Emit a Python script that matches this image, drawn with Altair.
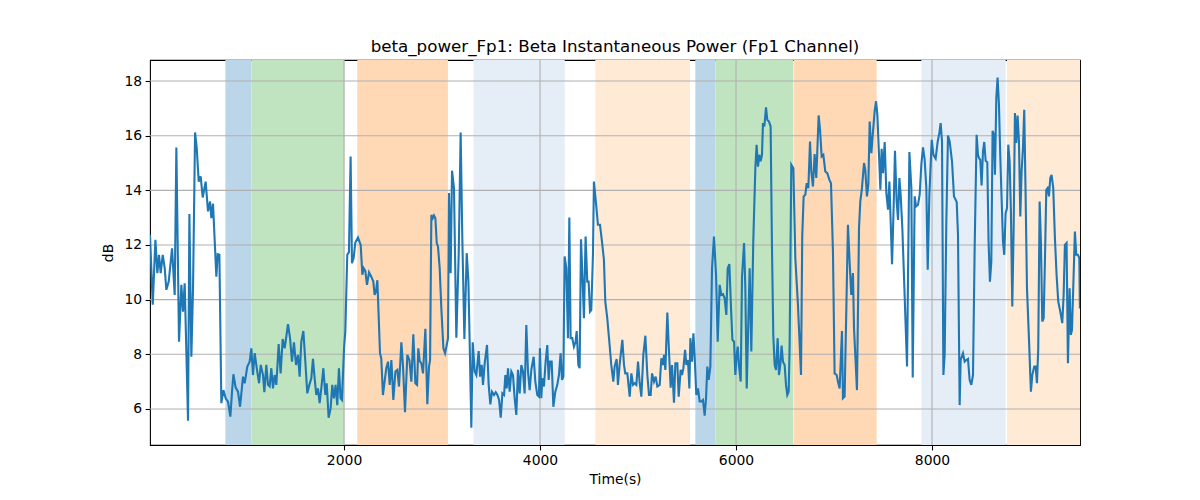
import altair as alt
import pandas as pd

# instantaneous beta power
time_s = [
    20, 48, 75, 95, 112, 129, 150, 170, 187, 211, 245, 272, 289, 316, 340, 357, 374, 408, 422, 442,
    459, 480, 497, 517, 537, 558, 588, 612, 633, 646, 663, 697, 711, 728, 748, 769, 792, 816, 840, 857,
    871, 894, 918, 939, 969, 986, 1013, 1037, 1054, 1071, 1088, 1112, 1133, 1150, 1173, 1187, 1207, 1224,
    1241, 1258, 1275, 1292, 1309, 1333, 1353, 1374, 1394, 1411, 1428, 1449, 1469, 1489, 1510, 1530, 1547,
    1564, 1585, 1605, 1625, 1646, 1666, 1683, 1700, 1717, 1734, 1751, 1768, 1789, 1809, 1823, 1843, 1863,
    1880, 1897, 1914, 1931, 1948, 1965, 1979, 2000, 2013, 2033, 2050, 2067, 2081, 2098, 2115, 2142, 2170,
    2187, 2200, 2217, 2234, 2255, 2278, 2299, 2312, 2326, 2340, 2353, 2367, 2380, 2397, 2414, 2431,
    2449, 2466, 2483, 2503, 2524, 2544, 2561, 2585, 2602, 2622, 2646, 2667, 2687, 2707, 2728, 2745, 2758,
    2772, 2789, 2806, 2830, 2850, 2867, 2878, 2891, 2905, 2918, 2932, 2946, 2959, 2976, 2993, 3014, 3031,
    3048, 3061, 3071, 3088, 3102, 3122, 3146, 3170, 3190, 3207, 3228, 3252, 3269, 3282, 3299, 3313, 3333,
    3350, 3374, 3388, 3405, 3418, 3435, 3459, 3476, 3493, 3510, 3531, 3548, 3565, 3582, 3599, 3616, 3633,
    3646, 3660,
    3673, 3690, 3707, 3724, 3741, 3758, 3775, 3792, 3809, 3826, 3843, 3860, 3877, 3894, 3911, 3935, 3952,
    3972, 3989, 3999, 4013, 4023, 4040, 4057, 4074, 4088, 4102, 4119, 4136, 4156, 4176, 4193, 4210, 4224,
    4238, 4251, 4268, 4285, 4299, 4312, 4329, 4346, 4363, 4374, 4391, 4404, 4418, 4435, 4448, 4465, 4482,
    4496, 4510, 4523, 4540, 4550, 4571, 4591, 4612, 4632, 4652, 4666, 4686, 4710, 4727, 4748, 4761, 4782,
    4795, 4812, 4840, 4857, 4870, 4891,
    4915, 4932, 4949, 4966, 4983, 5000, 5017, 5034, 5054, 5075, 5095, 5112, 5129, 5143, 5163, 5180, 5197,
    5221, 5238, 5255, 5265, 5279, 5299, 5313, 5333, 5347, 5367, 5381, 5401, 5415, 5435, 5449, 5463, 5480,
    5493, 5510, 5524, 5534, 5551, 5565, 5578, 5595, 5612, 5629, 5646, 5663, 5680, 5694, 5707, 5721, 5738,
    5755, 5775, 5796, 5813, 5833, 5850, 5867, 5884, 5901, 5915, 5932, 5949, 5963, 5980, 5993, 6007, 6017,
    6031, 6048, 6061, 6082, 6095, 6109,
    6139, 6156, 6176, 6197, 6210, 6224, 6238, 6251, 6265, 6275, 6289, 6306, 6319, 6336, 6353, 6367, 6380,
    6394, 6408, 6425, 6438, 6452, 6465, 6479, 6496, 6510, 6523, 6537, 6547, 6564, 6585, 6605, 6632, 6663,
    6676, 6690, 6707, 6721, 6738, 6755, 6768, 6785, 6802, 6819, 6843, 6857, 6874, 6891, 6911, 6931, 6952,
    6969, 6989, 7006, 7027, 7040, 7057, 7081, 7091, 7108, 7125, 7142, 7159, 7176, 7193, 7204, 7217, 7234,
    7255, 7268, 7285, 7306, 7319, 7336, 7350,
    7364, 7381, 7395, 7415, 7429, 7442, 7459, 7473, 7486, 7500, 7517, 7534, 7551, 7565, 7578, 7592, 7609,
    7622, 7639, 7653, 7667, 7680, 7697, 7718, 7745, 7769, 7789, 7803, 7823, 7837, 7857, 7874, 7891, 7908,
    7925, 7942, 7956, 7973, 7997, 8014, 8037, 8058, 8075, 8088, 8102, 8116, 8129, 8146, 8163, 8180, 8204,
    8224, 8252, 8265, 8282, 8292, 8316, 8333, 8350, 8367, 8384, 8401, 8418, 8435,
    8455, 8469, 8479, 8492, 8506, 8520, 8533, 8547, 8564, 8577, 8591, 8605, 8618, 8632, 8642, 8656, 8669,
    8683, 8696, 8710, 8724, 8737, 8751, 8765, 8778, 8792, 8805, 8819, 8833, 8846, 8860, 8873, 8887, 8901,
    8914, 8928, 8941, 8955, 8969, 8989, 9009, 9023, 9043, 9057, 9071, 9084, 9098, 9111, 9125, 9139, 9152,
    9166, 9179, 9193, 9207, 9220, 9237, 9254, 9271, 9288, 9309, 9329, 9343, 9356, 9373, 9387, 9404, 9417,
    9428, 9441, 9458, 9472, 9489, 9503, 9509,
]

power_db = [
    12.37, 9.81, 12.19, 10.97, 11.64, 10.97, 11.64, 11.15, 10.36, 10.66, 11.88, 10.17, 15.57, 8.46, 10.54,
    9.56, 10.60, 5.57, 13.13, 7.91, 10.42, 16.12, 15.55, 14.32, 14.51, 13.74, 14.32, 13.23, 13.59, 12.98,
    13.51, 10.84, 11.66, 11.64, 6.21, 6.69, 6.39, 6.27, 5.72, 6.63, 7.27, 6.78, 6.63, 6.08, 7.18, 6.94,
    7.55, 7.73, 8.22, 7.24, 8.04, 7.43, 6.94, 7.61, 7.24, 6.61, 7.61, 6.88,
    6.82, 7.49, 6.75, 7.24, 6.88, 8.37, 7.30, 8.56, 8.22, 8.65, 9.10, 8.59, 7.73, 8.44, 7.61, 7.98, 7.18,
    8.46, 8.85, 7.73, 6.57, 6.88, 7.12, 7.83, 7.12, 6.51, 6.75, 6.21, 6.75, 7.49, 6.51, 6.94, 5.68, 6.02,
    6.88, 6.39, 6.88, 6.14, 7.49, 6.39, 6.33, 8.22, 8.83, 11.64, 11.74, 15.24, 11.33, 11.52, 12.09, 12.27,
    12.00, 10.91, 11.15, 11.05, 10.54, 11.00, 10.84, 10.66, 10.17, 10.30, 10.71, 9.44, 8.04, 7.85, 6.51,
    7.00, 7.49,
    7.73, 6.88, 7.79, 6.33, 7.37, 7.43, 6.82, 8.44, 7.55, 5.88, 7.98, 7.79, 7.00, 8.73, 6.94, 6.88, 8.22,
    7.76, 7.67, 7.30, 8.93, 6.17, 7.55, 7.79, 13.10, 12.98, 13.08, 12.98, 12.07, 11.94, 11.15, 9.68, 8.22,
    8.04, 8.34, 8.59, 13.90, 10.97, 14.72, 14.08, 8.61, 11.64, 16.12, 12.25, 8.56, 11.70, 10.66, 8.44, 5.31,
    8.44, 7.37, 7.24, 8.12, 7.18, 7.61, 6.88, 7.67, 8.34, 6.88, 6.17, 6.63, 6.51, 6.61, 6.51, 6.33, 5.68,
    6.57, 6.51, 7.24, 6.75,
    7.49, 6.63, 7.37, 7.24, 6.39, 5.78, 7.43, 6.57, 7.61, 7.37, 6.57, 9.07, 7.37, 6.69, 7.43, 7.91, 7.00,
    6.51, 6.45, 8.22, 6.39, 7.12, 6.82, 7.73, 8.34, 7.06, 7.73, 7.73, 6.08, 6.63, 6.88, 7.24, 8.04, 7.06,
    7.18, 11.58, 11.15, 8.59, 13.01, 8.59, 8.59, 8.28, 8.46, 8.85, 7.61, 7.49, 12.21, 10.66, 9.32, 12.31,
    10.66, 10.66, 9.56, 9.62, 11.64, 14.32, 13.53, 12.74, 12.74, 12.13, 11.46, 9.93, 9.32, 8.34, 7.61, 7.00,
    7.55, 7.83, 6.88, 7.61, 8.53, 7.61, 7.30, 7.30,
    6.45, 7.30, 6.88, 6.94, 6.88, 7.73, 6.94, 6.45, 7.98, 8.68, 7.24, 6.51, 6.51, 7.30, 7.00, 7.18, 6.82,
    6.88, 7.85, 7.61, 7.98, 7.43, 9.53, 8.34, 6.78, 7.61, 6.23, 7.67, 7.67, 6.45, 7.43, 7.24, 7.49, 8.16,
    7.61, 7.79, 6.75, 8.59, 7.73, 8.77, 7.91, 6.51, 6.75, 6.27, 6.27, 6.33, 5.75, 6.39, 7.55, 7.06, 7.55,
    11.15, 12.31, 10.91, 8.46, 10.54, 10.17, 10.20, 10.05, 9.44, 11.15, 11.30, 9.68, 8.53, 8.46, 7.24,
    7.98, 8.28, 7.55, 7.00, 10.84, 12.07, 10.42, 6.75,
    11.15, 8.10, 12.13, 14.81, 15.67, 14.87, 15.30, 15.06, 15.30, 16.46, 16.34, 17.04, 16.58, 16.52, 16.34,
    11.88, 8.71, 7.61, 7.43, 8.59, 7.24, 7.61, 8.32, 7.73, 7.61, 6.88, 6.51, 6.63, 8.34, 14.94, 14.81,
    11.52, 9.81, 7.24, 12.37, 13.78, 13.84, 14.26, 14.08, 15.79, 14.69, 14.14, 15.33, 14.45, 16.74, 16.22,
    15.24, 15.30, 14.69, 14.63, 14.39, 14.26, 11.76, 7.30, 7.24, 7.00, 6.75, 8.85, 6.39, 6.45, 9.56, 12.74,
    11.39, 10.17, 10.97, 8.95, 7.98, 6.69, 12.62, 13.59, 14.08, 15.00, 14.75, 13.78, 14.20,
    16.52, 15.36, 16.03, 16.91, 17.26, 16.77, 15.30, 14.02, 15.52, 14.63, 15.77, 13.90, 13.29, 14.32, 12.86,
    11.30, 13.47, 15.45, 13.59, 12.92, 14.45, 13.84, 12.62, 10.42, 7.55, 15.40, 14.08, 7.15, 13.78, 13.41,
    13.47, 13.84, 14.94, 15.57, 15.12, 14.08, 11.09, 13.84, 15.85, 15.30, 15.16, 15.79, 16.10, 16.46, 15.79,
    7.24, 7.98, 12.86, 16.01, 15.79, 15.06, 13.78, 13.57, 12.37, 6.14, 7.79, 8.04, 7.73, 7.79, 7.83, 7.06,
    6.88, 7.24, 11.88,
    16.03, 15.30, 15.18, 15.12, 14.18, 15.42, 15.77, 15.08, 15.03, 12.13, 10.66, 11.39, 16.18, 16.03, 14.57,
    17.38, 18.13, 17.13, 15.30, 13.71, 12.13, 11.64, 13.16, 13.35, 15.67, 15.06, 13.23, 9.75, 12.62, 16.83,
    15.73, 16.74, 15.79, 13.04, 14.69, 15.55, 16.95, 13.84, 10.42, 8.59, 6.63, 7.24, 7.55, 7.55, 6.94, 8.22,
    13.59, 12.13, 9.20, 9.32, 11.39, 14.02, 14.08, 13.78, 14.45, 14.57, 14.08, 12.25, 10.91, 9.93, 9.56,
    9.14, 10.17, 12.00, 12.07, 7.67, 10.42, 8.71, 8.89, 10.42, 12.49, 11.64, 11.64, 11.52, 9.68,
]

# shaded task intervals
span_start = [789, 1055, 2135, 3320, 4564, 5585, 5789, 6588, 7891, 8765]
span_end = [1055, 2003, 3060, 4252, 5531, 5789, 6583, 7435, 8751, 9510]
span_kind = ["A", "B", "C", "D", "E", "A", "B", "C", "D", "E"]

x_ticks = [2000, 4000, 6000, 8000]
y_ticks = [6, 8, 10, 12, 14, 16, 18]

FONT = "DejaVu Sans"
W, H = 930, 385

df_line = pd.DataFrame({"t": time_s, "db": power_db})
df_span = pd.DataFrame({"start": span_start, "end": span_end, "kind": span_kind})

x_scale = alt.Scale(domain=[20, 9510], nice=False, zero=False)
y_scale = alt.Scale(domain=[4.68, 18.77], nice=False, zero=False)

# same axis spec on every layer so Vega-Lite merges them into one
x_axis = alt.Axis(values=x_ticks, format="d", grid=False)
y_axis = alt.Axis(values=y_ticks, format="d", grid=False)

# span colours = matplotlib tab colours blended with white (alpha 0.3 / light ones lower)
spans = alt.Chart(df_span).mark_rect(strokeWidth=0).encode(
    x=alt.X("start:Q", scale=x_scale, axis=x_axis, title="Time(s)"),
    x2="end:Q",
    color=alt.Color(
        "kind:N",
        legend=None,
        scale=alt.Scale(
            domain=["A", "B", "C", "D", "E"],
            range=["#bbd6e8", "#c0e3c0", "#ffd8b6", "#e5eef7", "#ffead6"],
        ),
    ),
)

grid_y = alt.Chart(pd.DataFrame({"v": y_ticks})).mark_rule(
    color="#b0b0b0", strokeWidth=1.1
).encode(y=alt.Y("v:Q", scale=y_scale, axis=y_axis, title="dB"))

grid_x = alt.Chart(pd.DataFrame({"v": x_ticks})).mark_rule(
    color="#b0b0b0", strokeWidth=1.1
).encode(x=alt.X("v:Q", scale=x_scale, axis=x_axis, title="Time(s)"))

line = alt.Chart(df_line).mark_line(color="#1f77b4", strokeWidth=2.1, clip=True).encode(
    x=alt.X("t:Q", scale=x_scale, axis=x_axis, title="Time(s)"),
    y=alt.Y("db:Q", scale=y_scale, axis=y_axis, title="dB"),
)

chart = alt.layer(spans, grid_y, grid_x, line).properties(
    width=W,
    height=H,
    autosize=alt.AutoSizeParams(type="none"),
    padding={"left": 142, "top": 52, "right": 112, "bottom": 56},
    title=alt.TitleParams(
        text="beta_power_Fp1: Beta Instantaneous Power (Fp1 Channel)",
        font=FONT,
        fontSize=16.7,
        fontWeight="normal",
        anchor="middle",
        offset=4,
        color="black",
    ),
).configure_view(
    stroke="black", strokeWidth=1.1
).configure_axis(
    domain=False,
    ticks=True,
    tickColor="black",
    tickSize=4.9,
    tickWidth=1.1,
    labelFont=FONT,
    labelFontSize=13.9,
    labelColor="black",
    labelPadding=3.5,
    titleFont=FONT,
    titleFontSize=13.9,
    titleFontWeight="normal",
    titleColor="black",
).configure_axisX(
    titlePadding=5
).configure_axisY(
    titlePadding=8
)

chart.save("out.html", embed_options={"renderer": "svg", "actions": False})
